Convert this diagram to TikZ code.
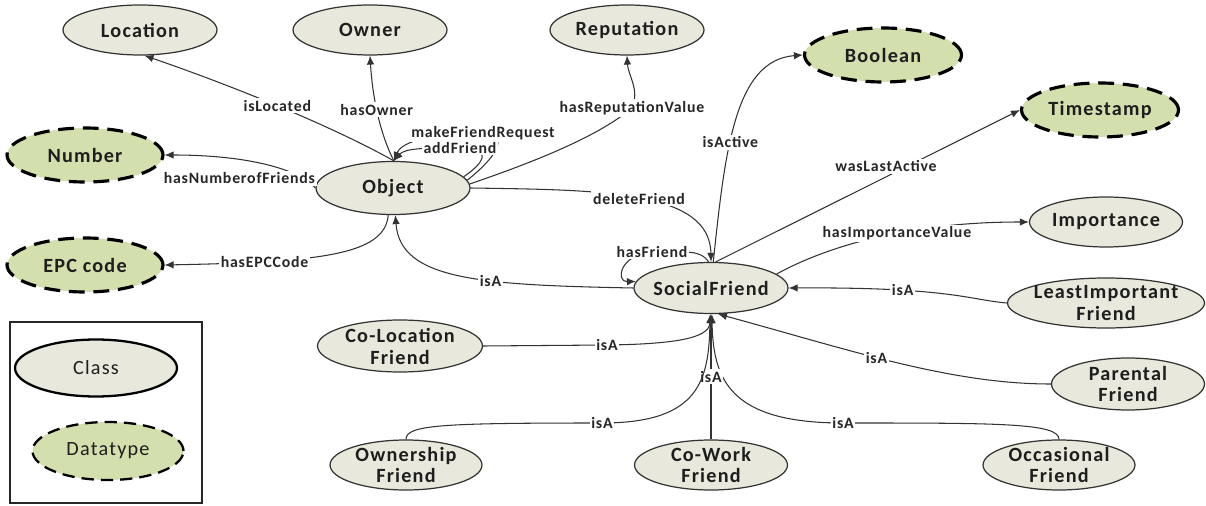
\documentclass[tikz,border=0pt]{standalone}
\usepackage{fontspec}
\setmainfont{Carlito}
\newfontfamily\nodefont[LetterSpace=6]{Carlito}
\newfontfamily\edgefont[LetterSpace=5]{Carlito}
\usetikzlibrary{positioning, shapes.geometric, arrows.meta}
\definecolor{classfill}{HTML}{E8E8DC}
\definecolor{dtfill}{HTML}{D4DFAE}
\definecolor{inkcol}{HTML}{1E1E1E}
\tikzset{
	cls/.style={ellipse, draw=black!80, line width=0.7pt, fill=classfill, text=inkcol, inner xsep=-6mm, inner ysep=-3mm, minimum width=3.08cm, minimum height=1cm, align=center, font=\nodefont\bfseries\fontsize{11.5}{12.5}\selectfont},
	dtype/.style={cls, fill=dtfill, draw=black, line width=1.8pt, dash pattern=on 9pt off 5pt, minimum width=3.12cm, minimum height=1.08cm},
	rel/.style={draw=black!80, line width=0.6pt, -{Latex[length=1.8mm,width=1.5mm]}}
}

\begin{document}
\begin{tikzpicture}[
		x=0.02cm, y=-0.02cm,
		lbl/.style={font=\edgefont\bfseries\fontsize{9}{10}\selectfont, text=black!85, fill=white, inner sep=1pt}
		]
		\useasboundingbox (0,0) rectangle (1206,506);
		
		% classes and datatypes
		\node[cls] (loc) at (140,30) {Location};
		\node[cls] (own) at (370,30) {Owner};
		\node[cls] (rep) at (627,30) {Reputation};
		\node[dtype, minimum width=3.14cm] (bool) at (883,55) {Boolean};
		\node[dtype, minimum width=3.14cm] (ts) at (1100,110) {Timestamp};
		\node[dtype] (num) at (85,155) {Number};
		\node[dtype] (epc) at (85,265) {EPC code};
		\node[cls, minimum height=1.06cm] (obj) at (393,188) {Object};
		\node[cls, minimum width=3.06cm] (imp) at (1106,222) {Importance};
		\node[cls, minimum height=1.02cm] (sf) at (711,288) {SocialFriend};
		
		\node[cls, minimum width=3.94cm] (lif) at (1106,303) {LeastImportant\\Friend};
		\node[cls, minimum width=3.06cm, minimum height=1.04cm] (par) at (1128,384) {Parental\\Friend};
		\node[cls, minimum width=3.04cm] (occ) at (1059,465) {Occasional\\Friend};
		\node[cls, minimum width=3.06cm] (cwf) at (711,465) {Co-Work\\Friend};
		\node[cls, minimum width=3.04cm] (owf) at (406,465) {Ownership\\Friend};
		\node[cls, minimum width=3.3cm, minimum height=1.04cm] (clf) at (400,346) {Co-Location\\Friend};
		
		% legend
		\draw[line width=1.2pt, black!85] (10,322) rectangle (202,503);
		\node[cls, draw=black, line width=1.3pt, minimum width=3.24cm, minimum height=1.14cm, font=\nodefont\fontsize{11.5}{12.5}\selectfont] (lgcls) at (96,368) {Class};
		\node[dtype, line width=1.3pt, dash pattern=on 7pt off 4pt, minimum width=3.02cm, minimum height=1.16cm, font=\nodefont\fontsize{11.5}{12.5}\selectfont] (lgdt) at (108,451) {Datatype};
		
		% object properties
		\draw[rel] (obj.88) .. controls (330,125) and (230,85) .. (loc.-80) node[lbl, midway] {isLocated};
		\draw[rel] (obj.88) .. controls (378,130) and (372,90) .. (own.south) node[lbl, midway] {hasOwner};
		\draw[rel] (obj.6) .. controls (505,150) and (505,133) .. (483,133) node[lbl] {makeFriendRequest} .. controls (420,133) and (400,145) .. (obj.88);
		\draw[rel] (obj.9) .. controls (488,160) and (490,148) .. (460,148) node[lbl] {addFriend} .. controls (425,148) and (405,148) .. (obj.88);
		\draw[rel] (obj.3) .. controls (540,160) and (600,135) .. (632,108) node[lbl] {hasReputationValue} .. controls (640,90) and (628,75) .. (rep.south);
		\draw[rel] (obj.west) .. controls (300,170) and (250,155) .. (num.east) node[lbl, pos=0.66, below=6pt] {hasNumberofFriends};
		\draw[rel] (obj.-100) .. controls (385,255) and (320,262) .. (epc.east) node[lbl, pos=0.75] {hasEPCCode};
		\draw[rel] (sf.west) .. controls (480,285) and (400,280) .. (obj.-85) node[lbl, pos=0.38] {isA};
		\draw[rel] (obj.east) .. controls (600,190) and (710,190) .. (sf.north) node[lbl, midway] {deleteFriend};
		
		% socialfriend properties
		\draw[rel] (sf.95) .. controls (700,250) and (690,252) .. (652,252) node[lbl] {hasFriend} .. controls (620,254) and (615,282) .. (sf.175);
		\draw[rel] (sf.85) .. controls (725,150) and (735,60) .. (bool.west) node[lbl, pos=0.4] {isActive};
		\draw[rel] (sf.80) -- (ts.west) node[lbl, pos=0.56, yshift=6pt] {wasLastActive};
		\draw[rel] (sf.12) .. controls (820,250) and (900,222) .. (imp.west) node[lbl, pos=0.6] {hasImportanceValue};
		
		% subclasses
		\draw[rel] (lif.west) .. controls (970,300) and (950,287) .. (sf.east) node[lbl, pos=0.69] {isA};
		\draw[rel] (par.west) .. controls (950,384) and (850,350) .. (sf.-75) node[lbl, pos=0.56] {isA};
		\draw[rel] (occ.north) .. controls (1059,423) and (1000,423) .. (843,423) node[lbl] {isA} .. controls (730,423) and (713,380) .. (sf.-88);
		\draw[rel, line width=1.1pt] (cwf.north) -- (sf.south) node[lbl, midway] {isA};
		\draw[rel] (owf.north) .. controls (406,425) and (440,423) .. (602,423) node[lbl] {isA} .. controls (700,423) and (709,380) .. (sf.-92);
		\draw[rel] (clf.east) -- (607,345) node[lbl] {isA} .. controls (690,344) and (709,335) .. (sf.-90);
	\end{tikzpicture}
\end{document}
